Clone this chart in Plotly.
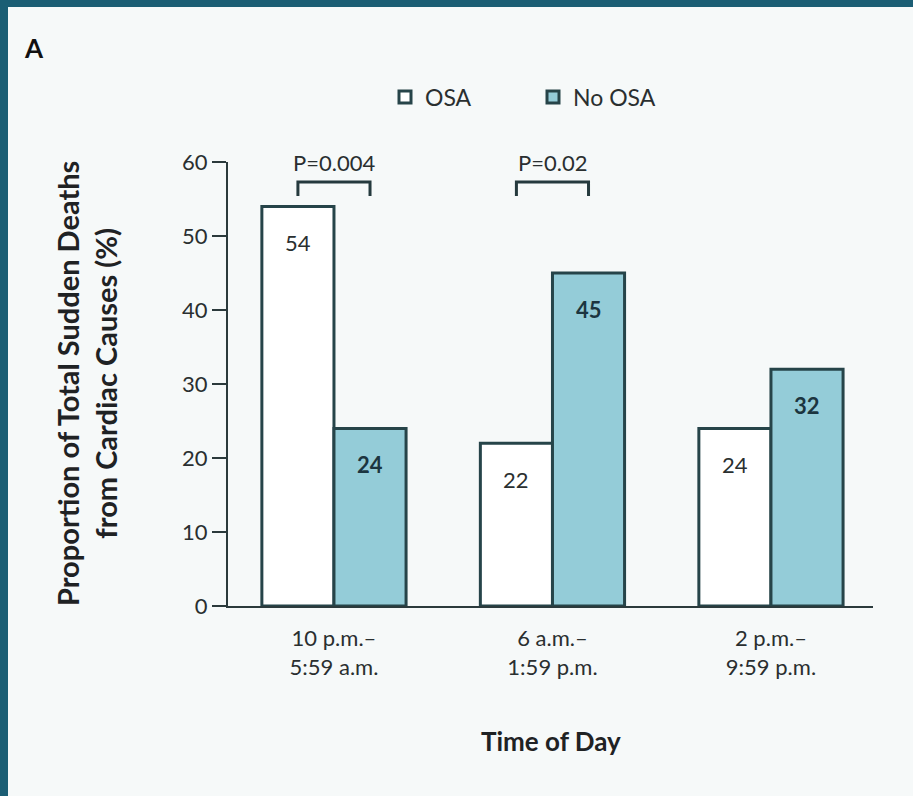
import plotly.graph_objects as go

# Sudden cardiac death by time of day, with and without obstructive sleep apnea
periods = ["10 p.m.–<br>5:59 a.m.", "6 a.m.–<br>1:59 p.m.", "2 p.m.–<br>9:59 p.m."]
osa = [54, 22, 24]
no_osa = [24, 45, 32]
p_labels = ["P=0.004", "P=0.02", None]
y_ticks = [0, 10, 20, 30, 40, 50, 60]

positions = list(range(len(periods)))

FONT = "Lato, 'Open Sans', sans-serif"
EDGE = "#264449"
BLUE = "#94ccd8"
FRAME = "#1b5e74"
BG = "#f6f9f9"
INK = "#2a2f30"

W, H = 913, 796
ML, MR, MT, MB = 228, 40, 162, 190
PW, PH = W - ML - MR, H - MT - MB

fig = go.Figure()
fig.add_trace(go.Bar(
    x=positions, y=osa, name="OSA",
    marker=dict(color="white", line=dict(color=EDGE, width=3)),
))
fig.add_trace(go.Bar(
    x=positions, y=no_osa, name="No OSA",
    marker=dict(color=BLUE, line=dict(color=EDGE, width=3)),
))

bar_w = 0.33
annotations = []
shapes = []

# value labels just under each bar top
for i, v in enumerate(osa):
    annotations.append(dict(x=i - bar_w / 2, y=v, xref="x", yref="y", text=str(v),
                            showarrow=False, yshift=-36, yanchor="middle",
                            font=dict(family=FONT, size=22, color=INK)))
for i, v in enumerate(no_osa):
    annotations.append(dict(x=i + bar_w / 2, y=v, xref="x", yref="y", text=f"<b>{v}</b>",
                            showarrow=False, yshift=-36, yanchor="middle",
                            font=dict(family=FONT, size=22, color="#1c3540")))

# significance brackets
for i, p in enumerate(p_labels):
    if p is None:
        continue
    x0, x1 = i - bar_w / 2, i + bar_w / 2
    shapes.append(dict(type="path", xref="x", yref="y",
                       path=f"M {x0},55.4 L {x0},57.3 L {x1},57.3 L {x1},55.4",
                       line=dict(color="#253a3e", width=3)))
    annotations.append(dict(x=i, y=60, xref="x", yref="y", text=p, showarrow=False,
                            yanchor="middle",
                            font=dict(family=FONT, size=22, color=INK)))

# axis titles and panel letter
annotations.append(dict(x=-(ML - 86) / PW, y=0.5, xref="paper", yref="paper",
                        text="<b>Proportion of Total Sudden Deaths<br>from Cardiac Causes (%)</b>",
                        textangle=-90, showarrow=False, xanchor="center", yanchor="middle",
                        font=dict(family=FONT, size=29, color="#1f2224")))
annotations.append(dict(x=0.5, y=-(741 - MT - PH) / PH, xref="paper", yref="paper",
                        text="<b>Time of Day</b>", showarrow=False,
                        xanchor="center", yanchor="middle",
                        font=dict(family=FONT, size=26, color="#1f2224")))
annotations.append(dict(x=-(ML - 22) / PW, y=1 + (MT - 48) / PH, xref="paper", yref="paper",
                        text="<b>A</b>", showarrow=False, xanchor="left", yanchor="middle",
                        font=dict(family=FONT, size=26, color="#111")))

# dark frame along the top and left edges
shapes.append(dict(type="rect", xref="paper", yref="paper", layer="above",
                   x0=-ML / PW, x1=(W - ML) / PW, y0=1 + (MT - 7) / PH, y1=1 + MT / PH,
                   fillcolor=FRAME, line=dict(width=0)))
shapes.append(dict(type="rect", xref="paper", yref="paper", layer="above",
                   x0=-ML / PW, x1=-(ML - 8) / PW, y0=-MB / PH, y1=1 + MT / PH,
                   fillcolor=FRAME, line=dict(width=0)))

fig.update_layout(
    width=W, height=H,
    margin=dict(l=ML, r=MR, t=MT, b=MB),
    paper_bgcolor=BG, plot_bgcolor=BG,
    barmode="group", bargap=0.34, bargroupgap=0,
    font=dict(family=FONT, size=22, color=INK),
    showlegend=True,
    legend=dict(orientation="h", x=(385 - ML) / PW, y=1 + (MT - 97) / PH,
                xanchor="left", yanchor="middle", bgcolor="rgba(0,0,0,0)",
                font=dict(family=FONT, size=23, color=INK),
                entrywidth=103, entrywidthmode="pixels",
                traceorder="normal"),
    annotations=annotations,
    shapes=shapes,
    xaxis=dict(range=[-0.485, 2.467], tickmode="array", tickvals=positions,
               ticktext=periods, showline=True, linecolor="#2b3a3c", linewidth=2,
               ticks="", showgrid=False, zeroline=False, fixedrange=True,
               ticklabelstandoff=12,
               tickfont=dict(family=FONT, size=22, color=INK)),
    yaxis=dict(range=[0, 60], tickmode="array", tickvals=y_ticks,
               showline=True, linecolor="#2b3a3c", linewidth=2,
               ticks="outside", ticklen=14, tickwidth=2, tickcolor="#2b3a3c",
               showgrid=False, zeroline=False, fixedrange=True,
               tickfont=dict(family=FONT, size=22, color=INK)),
)

fig.write_html("out.html")
